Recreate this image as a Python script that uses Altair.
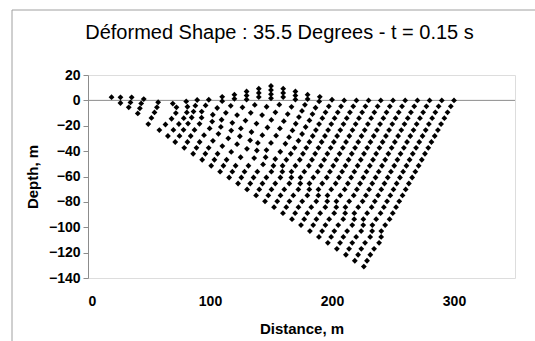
import altair as alt
import pandas as pd

TITLE = "Déformed Shape : 35.5 Degrees - t = 0.15 s"

# Depth of each node row (k = 0 at the surface) in the undeformed mesh, m
row_depth = [0, -4.7, -9.4, -14.0, -18.7, -23.4, -28.1, -32.8, -37.4, -42.1,
             -46.8, -51.5, -56.2, -60.8, -65.5, -70.2, -74.9, -79.6, -84.2,
             -88.9, -93.6, -98.3, -103.0, -107.6, -112.3, -117.0, -121.7,
             -126.4, -131.0]

# Distance of the nodes of each mesh line (line 0 starts at the left corner), m
line_x = [
    [19.3],
    [26.6, 26.6],
    [35.8, 34.8, 33.4],
    [45.7, 43.6, 42.5, 40.8],
    [57.5, 56.5, 54.5, 52.0, 49.4],
    [69.5, 72.5, 72.0, 68.5, 63.5, 58.5],
    [80.5, 81.5, 81.0, 78.5, 74.5, 70.0, 65.5],
    [89.5, 88.0, 86.5, 85.0, 82.0, 78.3, 75.0, 71.5],
    [99.0, 96.4, 93.2, 93.1, 91.4, 87.3, 84.2, 81.5, 78.9],
    [110, 110, 105.9, 102.3, 101.8, 99.7, 95.1, 91.5, 88.9, 86.2],
    [120, 120, 117.0, 113.0, 109.5, 108.9, 106.9, 102.4, 98.9, 96.2, 93.6],
    [130, 130, 130, 126.6, 122.2, 118.3, 117.4, 115.0, 110.1, 106.2, 103.6, 101.0],
    [140, 140, 140, 136.7, 133.4, 129.1, 125.3, 124.5, 122.2, 117.4, 113.6, 111.0, 108.3],
    [150, 150, 150, 150, 146.4, 142.7, 138.1, 134.0, 132.9, 130.3, 125.1, 121.0, 118.3, 115.7],
    [160, 160, 160, 156.8, 153.6, 150.3, 147.1, 142.9, 139.2, 138.4, 136.2, 131.5, 128.3, 125.7, 123.0],
    [170, 170, 170, 166.8, 163.7, 160.5, 157.3, 154.2, 150.0, 146.3, 145.6, 143.5, 138.8, 135.7, 133.0, 130.4],
    [180, 180, 177.8, 175.4, 172.9, 170.3, 167.6, 164.8, 161.8, 157.6, 153.5, 152.0, 150.3, 146.2, 143.0, 140.4, 137.8],
    [190, 189.5, 186.5, 184.0, 181.5, 178.4, 175.5, 172.5, 169.3, 166.2, 162.6, 159.5, 159.3, 157.7, 153.5, 150.4, 147.8, 145.1],
    [200, 197.4, 194.7, 192.1, 189.4, 186.8, 184.2, 181.5, 178.9, 176.2, 173.6, 170.0, 166.8, 166.7, 165.0, 160.9, 157.8, 155.1, 152.5],
    [210, 207.4, 204.7, 202.1, 199.4, 196.8, 194.2, 191.5, 188.9, 186.2, 183.6, 181.0, 177.3, 174.2, 174.0, 172.4, 168.3, 165.1, 162.5, 159.8],
    [220, 217.4, 214.7, 212.1, 209.4, 206.8, 204.2, 201.5, 198.9, 196.2, 193.6, 191.0, 188.3, 184.7, 181.5, 181.4, 179.8, 175.6, 172.5, 169.8, 167.2],
    [230, 227.4, 224.7, 222.1, 219.4, 216.8, 214.2, 211.5, 208.9, 206.2, 203.6, 201.0, 198.3, 195.7, 192.0, 188.9, 188.8, 187.1, 183.0, 179.8, 177.2, 174.6],
    [240, 237.4, 234.7, 232.1, 229.4, 226.8, 224.2, 221.5, 218.9, 216.2, 213.6, 211.0, 208.3, 205.7, 203.0, 199.4, 196.3, 196.1, 194.5, 190.3, 187.2, 184.6, 181.9],
    [250, 247.4, 244.7, 242.1, 239.4, 236.8, 234.2, 231.5, 228.9, 226.2, 223.6, 221.0, 218.3, 215.7, 213.0, 210.4, 206.8, 203.6, 203.5, 201.8, 197.7, 194.6, 191.9, 189.3],
    [260, 257.4, 254.7, 252.1, 249.4, 246.8, 244.2, 241.5, 238.9, 236.2, 233.6, 231.0, 228.3, 225.7, 223.0, 220.4, 217.8, 214.1, 211.0, 210.8, 209.2, 205.1, 201.9, 199.3, 196.6],
    [270, 267.4, 264.7, 262.1, 259.4, 256.8, 254.2, 251.5, 248.9, 246.2, 243.6, 241.0, 238.3, 235.7, 233.0, 230.4, 227.8, 225.1, 221.5, 218.3, 218.2, 216.6, 212.4, 209.3, 206.6, 204.0],
    [280, 277.4, 274.7, 272.1, 269.4, 266.8, 264.2, 261.5, 258.9, 256.2, 253.6, 251.0, 248.3, 245.7, 243.0, 240.4, 237.8, 235.1, 232.5, 228.8, 225.7, 225.6, 223.9, 219.8, 216.6, 214.0, 211.4],
    [290, 287.4, 284.7, 282.1, 279.4, 276.8, 274.2, 271.5, 268.9, 266.2, 263.6, 261.0, 258.3, 255.7, 253.0, 250.4, 247.8, 245.1, 242.5, 239.8, 236.2, 233.1, 232.9, 231.3, 227.1, 224.0, 221.4, 218.7],
    [300, 297.4, 294.7, 292.1, 289.4, 286.8, 284.2, 281.5, 278.9, 276.2, 273.6, 271.0, 268.3, 265.7, 263.0, 260.4, 257.8, 255.1, 252.5, 249.8, 247.2, 243.6, 240.4, 240.3, 238.6, 234.5, 231.4, 228.7, 226.1],
]

# Depth of the nodes of the lines that are lifted / bent by the wave, m
line_y = {
    0: [2.5],
    1: [2.4, -2.1],
    2: [2.4, -1.6, -5.5],
    3: [1.0, -2.4, -6.3, -10.3],
    4: [-1.5, -5.5, -9.5, -13.8, -18.7],
    5: [-2.5, -5.5, -10.0, -14.5, -19.0, -23.4],
    6: [-0.8, -5.0, -9.5, -14.0, -18.6, -23.3, -28.1],
    7: [0.3, -4.2, -8.8, -13.5, -18.3, -23.2, -28.0, -32.8],
    8: [0.5, -4.0, -8.8, -13.6, -18.5, -23.3, -28.1, -32.8, -37.4],
    9: [2.8, -0.6, -6.0, -11.3, -16.7, -22.1, -27.4, -32.8, -37.4, -42.1],
    10: [4.5, 1.2, -4.3, -9.8, -15.3, -20.9, -26.4, -31.9, -37.4, -42.1, -46.8],
    11: [7.0, 3.8, 0.6, -5.5, -11.6, -17.7, -23.8, -29.9, -36.0, -42.1, -46.8, -51.5],
    12: [9.2, 5.9, 2.6, -3.6, -9.8, -15.9, -22.1, -28.3, -34.5, -40.6, -46.8, -51.5, -56.2],
    13: [11.3, 8.1, 4.9, 1.7, -5.0, -11.6, -18.3, -24.9, -31.5, -38.2, -44.8, -51.5, -56.2, -60.8],
    14: [9.2, 5.9, 2.6, -3.4, -9.4, -15.4, -21.4, -27.4, -33.5, -39.5, -45.5, -51.5, -56.2, -60.8, -65.5],
    15: [7.0, 3.8, 0.6, -5.1, -10.8, -16.4, -22.1, -27.8, -33.5, -39.2, -44.8, -50.5, -56.2, -60.8, -65.5, -70.2],
    16: [4.5, 1.0, -3.5, -8.3, -13.2, -18.4, -23.7, -29.0, -34.2, -40.5, -46.2, -51.5, -56.2, -60.8, -65.5, -70.2, -74.9],
    17: [2.8, -0.8, -5.8, -10.8, -15.8, -21.0, -26.5, -31.8, -37.4, -42.1, -46.8, -51.5, -56.2, -60.8, -65.5, -70.2, -74.9, -79.6],
    18: [0.5] + row_depth[1:19],
}

# Tick labels of the axes
x_ticks = [0, 100, 200, 300]
y_ticks = [-140, -120, -100, -80, -60, -40, -20, 0, 20]

records = []
for i, xs in enumerate(line_x):
    ys = line_y.get(i, row_depth[:len(xs)])
    for x, y in zip(xs, ys):
        records.append({"distance": x, "depth": y, "line": i})
df = pd.DataFrame(records)

FONT = "Liberation Sans"
GREY = "#8c8c8c"

x_scale = alt.Scale(domain=[0, 350], nice=False, zero=False)
y_scale = alt.Scale(domain=[-140, 20], nice=False, zero=False)

x_axis = alt.Axis(
    title="Distance, m", values=x_ticks, domain=False, ticks=False,
    grid=False, labelPadding=16, labelFontSize=14, labelFontWeight="bold",
    labelFont=FONT, labelColor="black", titleFont=FONT, titleFontSize=15,
    titleFontWeight="bold", titleColor="black", titlePadding=13,
)
y_axis = alt.Axis(
    title="Depth, m", values=y_ticks, format="d",
    grid=False, domainColor=GREY, tickColor=GREY, tickSize=5, labelPadding=3,
    labelFontSize=14, labelFontWeight="bold", labelFont=FONT, labelColor="black",
    titleFont=FONT, titleFontSize=15, titleFontWeight="bold", titleColor="black",
    titlePadding=8,
)

zero_line = alt.Chart(pd.DataFrame({"level": [0]})).mark_rule(
    color=GREY, strokeWidth=1
).encode(y=alt.Y("level:Q", scale=y_scale, axis=y_axis))

points = alt.Chart(df).mark_point(
    shape="diamond", filled=True, color="black", size=34, opacity=1
).encode(
    x=alt.X("distance:Q", scale=x_scale, axis=x_axis),
    y=alt.Y("depth:Q", scale=y_scale, axis=y_axis),
)

frame_top = alt.Chart(pd.DataFrame({"a": [0]})).mark_rule(color="#a0a0a0", strokeWidth=1).encode(
    x=alt.value(-76), x2=alt.value(460), y=alt.value(-65)
)
frame_left = alt.Chart(pd.DataFrame({"a": [0]})).mark_rule(color="#a0a0a0", strokeWidth=1).encode(
    x=alt.value(-76), y=alt.value(-65), y2=alt.value(280)
)

title_text = alt.Chart(pd.DataFrame({"t": [TITLE]})).mark_text(
    font=FONT, fontSize=20, fontWeight="normal", color="black",
    align="center", baseline="alphabetic",
).encode(text="t:N", x=alt.value(191.5), y=alt.value(-36.5))

chart = alt.layer(frame_top, frame_left, zero_line, points, title_text).properties(
    width=427,
    height=203,
    padding={"left": 88, "top": 75, "right": 20, "bottom": 63},
    autosize=alt.AutoSizeParams(type="none"),
).configure_view(stroke=None).configure(background="white")

chart.save("out.html", embed_options={"renderer": "svg", "actions": False})
